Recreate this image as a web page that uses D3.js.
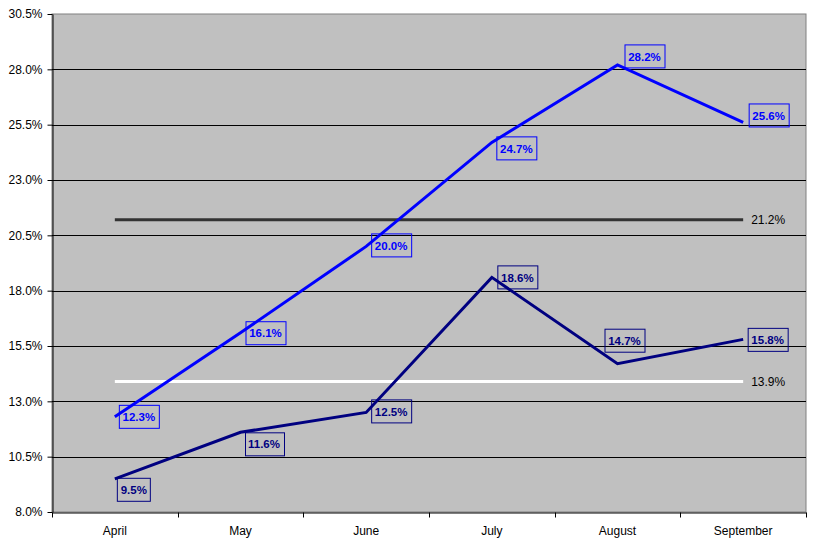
<!DOCTYPE html>
<html>
<head>
<meta charset="utf-8">
<script src="https://cdn.jsdelivr.net/npm/d3@7"></script>
<style>
  body { margin: 0; background: #fff; }
  text { font-family: Arial, 'Liberation Sans', sans-serif; }
</style>
</head>
<body>
<div id='chart'></div>
<script>

// Data
const months = ['April', 'May', 'June', 'July', 'August', 'September'];
const seriesA = [12.3, 16.1, 20.0, 24.7, 28.2, 25.6];
const seriesB = [9.5, 11.6, 12.5, 18.6, 14.7, 15.8];
const avgA = 21.2;
const avgB = 13.9;
const yTicks = [8.0, 10.5, 13.0, 15.5, 18.0, 20.5, 23.0, 25.5, 28.0, 30.5];

// Label box offsets (box centre relative to point)
const labelDxA = [24, 25, 25, 24.5, 27, 25.5];
const labelDyA = [0, 0.5, -1, 6, -8.5, -7];
const labelDxB = [19, 23.5, 25, 25.5, 7, 24.5];
const labelDyB = [11, 12, -1, 0, -23, 0.5];

// Page Dimensions
const W = 813, H = 544;
const margin = {top: 14, right: 7, bottom: 32, left: 52};

const svg = d3.select('div#chart').append('svg')
  .attr('width', W)
  .attr('height', H);

const x = d3.scaleBand()
  .domain(months)
  .range([margin.left, W - margin.right]);

const y = d3.scaleLinear()
  .domain([8, 30.5])
  .range([H - margin.bottom, margin.top]);

const cx = m => x(m) + x.bandwidth() / 2;

// Plot area
svg.append('rect')
  .attr('x', margin.left)
  .attr('y', margin.top)
  .attr('width', W - margin.right - margin.left)
  .attr('height', H - margin.bottom - margin.top)
  .attr('fill', '#c0c0c0')
  .attr('stroke', '#808080')
  .attr('stroke-width', 1);

// Gridlines
svg.append('g')
  .selectAll('line')
  .data(yTicks.slice(1, -1))
  .enter()
  .append('line')
  .attr('x1', margin.left)
  .attr('x2', W - margin.right)
  .attr('y1', d => Math.round(y(d)) + 0.5)
  .attr('y2', d => Math.round(y(d)) + 0.5)
  .attr('stroke', '#000')
  .attr('stroke-width', 1);

// Y axis
const yAxis = svg.append('g')
  .attr('transform', `translate(${margin.left + 0.5},0)`)
  .call(d3.axisLeft(y).tickValues(yTicks).tickFormat(d => d.toFixed(1) + '%').tickSize(5).tickSizeOuter(0));
yAxis.select('.domain').attr('stroke', '#000');
yAxis.selectAll('text')
  .attr('font-size', '12px')
  .attr('fill', '#000')
  .attr('x', -10);

// X axis
const xAxis = svg.append('g')
  .attr('transform', `translate(0,${H - margin.bottom + 0.5})`)
  .call(d3.axisBottom(x).tickSize(0).tickSizeOuter(0));
xAxis.select('.domain').attr('stroke', '#000');
xAxis.selectAll('text')
  .attr('font-size', '12px')
  .attr('fill', '#000')
  .attr('y', 14);
xAxis.selectAll('.sep')
  .data(months.concat(['end']))
  .enter()
  .append('line')
  .attr('class', 'sep')
  .attr('x1', (d, i) => Math.round(i < months.length ? x(d) : x.range()[1]) + 0.5)
  .attr('x2', (d, i) => Math.round(i < months.length ? x(d) : x.range()[1]) + 0.5)
  .attr('y1', 0)
  .attr('y2', 5)
  .attr('stroke', '#000');

// Average lines
const avgs = [
  {value: avgA, color: '#333333'},
  {value: avgB, color: '#ffffff'}
];
const avgG = svg.append('g');
avgG.selectAll('line')
  .data(avgs)
  .enter()
  .append('line')
  .attr('x1', cx(months[0]))
  .attr('x2', cx(months[months.length - 1]))
  .attr('y1', d => y(d.value))
  .attr('y2', d => y(d.value))
  .attr('stroke', d => d.color)
  .attr('stroke-width', 3);
avgG.selectAll('text')
  .data(avgs)
  .enter()
  .append('text')
  .attr('x', cx(months[months.length - 1]) + 8)
  .attr('y', d => y(d.value))
  .attr('dy', '0.35em')
  .attr('font-size', '12px')
  .attr('fill', '#000')
  .text(d => d.value.toFixed(1) + '%');

// Series lines
const line = d3.line()
  .x((d, i) => cx(months[i]))
  .y(d => y(d));

const series = [
  {values: seriesA, color: '#0000ff', dx: labelDxA, dy: labelDyA},
  {values: seriesB, color: '#000080', dx: labelDxB, dy: labelDyB}
];

series.forEach(s => {
  svg.append('path')
    .datum(s.values)
    .attr('d', line)
    .attr('fill', 'none')
    .attr('stroke', s.color)
    .attr('stroke-width', 3)
    .attr('stroke-linejoin', 'miter');
});

// Data labels
series.forEach(s => {
  const lg = svg.append('g')
    .selectAll('g')
    .data(s.values)
    .enter()
    .append('g')
    .attr('transform', (d, i) => `translate(${cx(months[i]) + s.dx[i]},${y(d) + s.dy[i]})`);

  lg.append('text')
    .attr('text-anchor', 'middle')
    .attr('dy', '0.36em')
    .attr('font-size', '11.5px')
    .attr('font-weight', 'bold')
    .attr('fill', s.color)
    .text(d => d.toFixed(1) + '%');

  lg.insert('rect', 'text')
    .each(function () {
      const w = this.parentNode.querySelector('text').getComputedTextLength() + 7;
      d3.select(this)
        .attr('x', Math.round(-w / 2) + 0.5)
        .attr('y', -11.5)
        .attr('width', Math.round(w))
        .attr('height', 23);
    })
    .attr('fill', 'none')
    .attr('stroke', s.color)
    .attr('stroke-width', 1);
});

</script>
</body>
</html>
